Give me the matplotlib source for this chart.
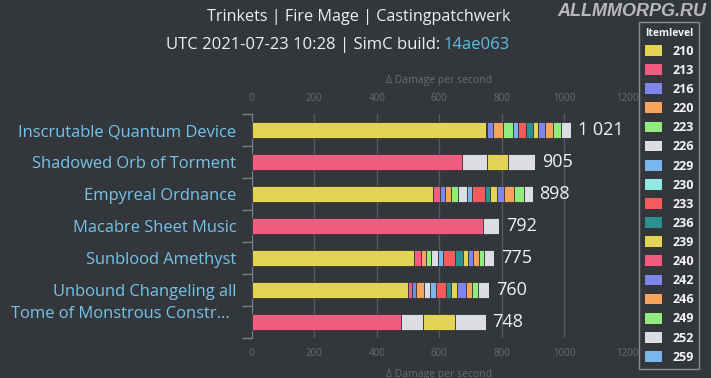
import matplotlib
matplotlib.use("Agg")
import matplotlib.pyplot as plt
import numpy as np
from matplotlib.patches import Patch
from matplotlib.transforms import ScaledTranslation

plt.rcParams["font.family"] = ["Open Sans", "DejaVu Sans"]

trinkets = [
    "Inscrutable Quantum Device",
    "Shadowed Orb of Torment",
    "Empyreal Ordnance",
    "Macabre Sheet Music",
    "Sunblood Amethyst",
    "Unbound Changeling all",
    "Tome of Monstrous Constr...",
]
itemlevels = ["210", "213", "216", "220", "223", "226", "229", "230", "233",
              "236", "239", "240", "242", "246", "249", "252", "259"]
level_colors = ["#e4d354", "#f15c80", "#8085e9", "#f7a35c", "#90ed7d", "#dcdce3",
                "#7cb5ec", "#91e8e1", "#f45b5b", "#2b908f", "#e4d354", "#f15c80",
                "#8085e9", "#f7a35c", "#90ed7d", "#dcdce3", "#7cb5ec"]

# dps gain per itemlevel step (columns follow itemlevels)
gains = [
    [750, 4, 18, 32, 30, 0, 18, 0, 25, 21, 18, 0, 22, 26, 24, 33, 0],
    [0, 673, 0, 0, 0, 80, 0, 0, 0, 0, 67, 0, 0, 0, 0, 85, 0],
    [579, 23, 16, 19, 24, 28, 14, 0, 43, 16, 23, 0, 22, 32, 33, 26, 0],
    [0, 741, 0, 0, 0, 51, 0, 0, 0, 0, 0, 0, 0, 0, 0, 0, 0],
    [519, 22, 0, 16, 18, 20, 16, 0, 39, 27, 16, 0, 16, 18, 17, 31, 0],
    [501, 11, 12, 28, 0, 18, 19, 0, 32, 16, 20, 0, 28, 18, 22, 35, 0],
    [0, 476, 0, 0, 0, 73, 0, 0, 0, 0, 101, 0, 0, 0, 0, 98, 0],
]
totals = [1021, 905, 898, 792, 775, 760, 748]

bg = "#33373c"
W, H = 711, 378
fig = plt.figure(figsize=(W / 100, H / 100), dpi=100, facecolor=bg)
ax = fig.add_axes([251.6 / W, 1 - 338 / H, (627 - 251.6) / W, 224 / H])
ax.set_facecolor(bg)

g = np.array(gains, dtype=float)
pos = np.arange(len(trinkets))
left = np.zeros(len(trinkets))
for j, c in enumerate(level_colors):
    ax.barh(pos, g[:, j], left=left, height=0.5, color=c,
            edgecolor=bg, linewidth=0.6, zorder=3)
    left += g[:, j]

for p, t in zip(pos, totals):
    ax.annotate(f"{t:,}".replace(",", " "), (left[p], p), xytext=(5, 0),
                textcoords="offset points", va="center", ha="left",
                color="#f2f2f2", fontsize=13)

ax.set_xlim(0, 1200)
ax.set_ylim(len(trinkets) - 0.5, -0.5)
ax.set_xticks(np.arange(0, 1201, 200))
ax.xaxis.grid(True, color="#555a60", linewidth=1, zorder=0)
ax.tick_params(axis="x", length=0, colors="#676d73", labelsize=7,
               labeltop=True, labelbottom=True, pad=7)

ax.set_yticks(pos, trinkets)
ax.set_yticks(np.arange(-0.5, len(trinkets)), minor=True)
ax.tick_params(axis="y", which="major", length=0, pad=11,
               labelsize=11.9, labelcolor="#74c4ea")
ax.tick_params(axis="y", which="minor", length=7, color="#7a7f85", width=1)
last = ax.get_yticklabels()[-1]
last.set_transform(last.get_transform() +
                   ScaledTranslation(-5 / 72, 7 / 72, fig.dpi_scale_trans))

for s in ["top", "right", "bottom"]:
    ax.spines[s].set_visible(False)
ax.spines["left"].set_color("#7a7f85")

cx = (251.6 + 627) / 2 / W
fig.text(cx, 1 - 80 / H, "Δ Damage per second", ha="center", va="center",
         color="#676d73", fontsize=7.5)
fig.text(cx, 1 - 374 / H, "Δ Damage per second", ha="center", va="center",
         color="#676d73", fontsize=7.5)

fig.text(359 / W, 1 - 17 / H, "Trinkets | Fire Mage | Castingpatchwerk",
         ha="center", va="center", color="#eceff1", fontsize=11.6)
fig.text(440 / W, 1 - 45 / H, "UTC 2021-07-23 10:28 | SimC build:",
         ha="right", va="center", color="#eceff1", fontsize=12)
fig.text(444 / W, 1 - 45 / H, "14ae063", ha="left", va="center",
         color="#5bc0de", fontsize=12)

fig.text(706 / W, 1 - 11 / H, "ALLMMORPG.RU", ha="right", va="center",
         color="#d0d0d0", fontsize=13, style="italic", fontweight="bold",
         family=["Liberation Sans", "DejaVu Sans"], alpha=0.85)

handles = [Patch(facecolor=c, edgecolor="none") for c in level_colors]
leg = fig.legend(handles, itemlevels, title="Itemlevel", loc="upper left",
                 bbox_to_anchor=(639 / W, 1 - 22 / H), frameon=True,
                 facecolor=bg, edgecolor="#8a8f95", fancybox=False,
                 framealpha=1, labelcolor="#f5f5f5",
                 prop={"weight": "bold", "size": 9},
                 title_fontproperties={"weight": "bold", "size": 7.5},
                 handlelength=1.4, handleheight=0.95, handletextpad=0.8,
                 labelspacing=0.49, borderpad=0.45, borderaxespad=0)
leg.get_title().set_color("#f5f5f5")
leg.get_frame().set_linewidth(1)

fig.savefig("out.png", dpi=100, facecolor=bg)
